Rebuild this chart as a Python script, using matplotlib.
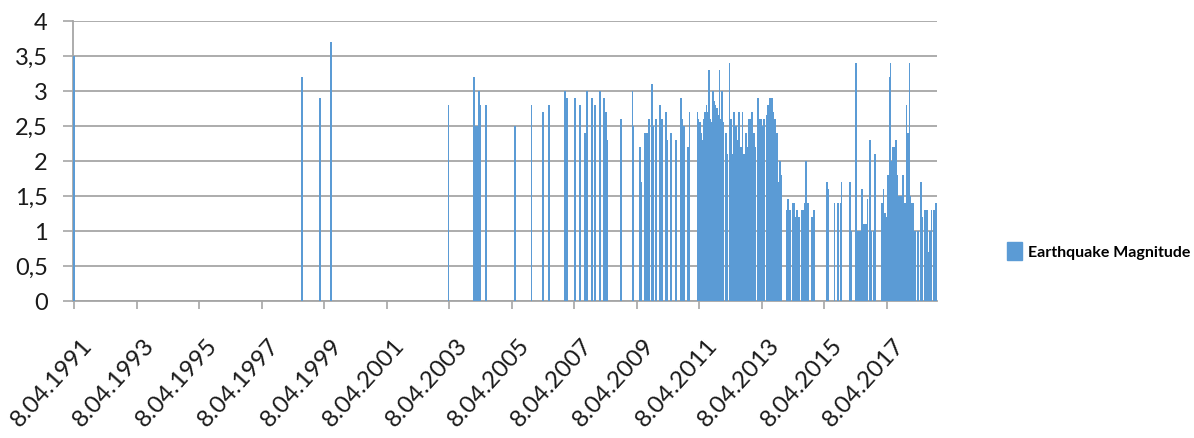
import matplotlib
matplotlib.use("Agg")
import matplotlib.pyplot as plt
import matplotlib.dates as mdates
from matplotlib.patches import Patch
from matplotlib.ticker import FuncFormatter
from matplotlib.transforms import ScaledTranslation
import pandas as pd

plt.rcParams['font.family'] = ['Lato', 'DejaVu Sans']

# event dates and magnitudes
quake_dates = [
    "1991-04-08", "1998-07-25", "1999-02-20", "1999-07-01", "2003-04-01",
    "2004-01-20", "2004-02-05", "2004-02-20", "2004-03-08", "2004-03-20", "2004-04-08", "2004-06-08",
    "2005-05-20", "2005-11-25", "2006-04-10", "2006-06-18", "2006-12-18", "2007-01-10", "2007-04-18",
    "2007-06-18", "2007-08-06", "2007-08-20", "2007-09-01", "2007-10-30", "2007-12-10", "2008-02-06",
    "2008-03-18", "2008-03-30", "2008-04-10", "2008-04-22", "2008-10-06", "2009-02-18", "2009-03-01",
    "2009-05-15", "2009-05-27", "2009-07-14",
    "2009-08-03", "2009-08-30", "2009-09-30", "2009-10-20", "2009-11-19", "2010-01-07", "2010-01-28",
    "2010-03-12", "2010-04-02", "2010-05-10", "2010-07-07", "2010-09-03", "2010-09-23", "2010-10-14",
    "2010-11-24", "2010-12-14",
    "2011-03-20", "2011-04-01", "2011-04-15", "2011-05-01", "2011-05-15", "2011-06-01", "2011-06-15",
    "2011-07-01", "2011-07-15", "2011-08-01", "2011-08-15", "2011-09-01", "2011-09-10", "2011-09-20",
    "2011-10-01", "2011-10-15", "2011-11-01", "2011-11-15", "2011-12-01", "2011-12-15", "2012-01-01",
    "2012-01-10",
    "2012-01-18", "2012-02-14", "2012-03-05", "2012-03-26", "2012-04-12", "2012-05-02", "2012-05-20",
    "2012-06-10", "2012-06-29", "2012-07-18", "2012-08-08", "2012-08-27", "2012-09-15", "2012-10-05",
    "2012-10-24", "2012-11-13", "2012-11-28", "2012-12-17", "2013-01-07", "2013-01-24", "2013-02-19",
    "2013-03-09", "2013-03-28", "2013-04-15", "2013-05-04", "2013-06-01", "2013-06-22", "2013-07-10",
    "2013-08-02", "2013-08-22", "2013-09-09", "2013-09-29", "2013-10-07", "2013-10-26", "2013-11-08",
    "2013-11-25",
    "2014-01-28", "2014-02-12", "2014-03-05", "2014-04-01", "2014-04-20", "2014-05-08", "2014-05-28",
    "2014-06-17", "2014-07-17", "2014-08-01", "2014-08-20", "2014-09-10", "2014-09-28", "2014-11-18",
    "2014-12-08",
    "2015-05-13", "2015-05-24", "2015-08-05", "2015-09-14", "2015-10-15", "2015-10-27", "2016-02-03",
    "2016-02-22", "2016-04-17", "2016-04-27", "2016-05-17", "2016-06-06", "2016-06-26", "2016-07-11",
    "2016-07-27", "2016-08-15", "2016-08-26", "2016-09-22", "2016-10-08", "2016-11-08", "2016-11-20",
    "2017-02-10", "2017-02-28", "2017-03-15", "2017-04-03", "2017-04-17", "2017-04-29", "2017-05-08",
    "2017-05-22", "2017-06-05", "2017-06-20", "2017-07-08", "2017-07-26", "2017-08-10", "2017-08-24",
    "2017-09-08", "2017-09-20", "2017-09-30", "2017-10-12", "2017-10-27", "2017-11-11", "2017-11-23",
    "2017-12-08", "2017-12-20", "2017-12-29", "2018-01-10", "2018-01-22", "2018-02-05",
    "2018-03-03", "2018-04-10", "2018-05-11", "2018-05-31", "2018-06-26", "2018-07-23", "2018-08-12",
    "2018-08-29", "2018-09-12", "2018-10-12", "2018-10-26", "2018-11-06",
]
magnitudes = [
    3.5, 3.2, 2.9, 3.7, 2.8,
    3.2, 2.5, 2.5, 2.5, 3.0, 2.8, 2.8,
    2.5, 2.8, 2.7, 2.8, 3.0, 2.9, 2.9,
    2.8, 2.4, 2.4, 3.0, 2.9, 2.8, 3.0,
    2.9, 2.7, 2.7, 2.3, 2.6, 3.0, 2.5,
    2.2, 1.7, 2.4,
    2.4, 2.6, 3.1, 2.5, 2.6, 2.8, 2.6,
    2.7, 2.3, 2.4, 2.3, 2.9, 2.6, 2.5,
    2.2, 2.7,
    2.7, 2.6, 2.55, 2.4, 2.3, 2.6, 2.7,
    2.8, 2.7, 3.3, 2.6, 2.55, 2.9, 3.0,
    2.85, 2.8, 2.75, 2.65, 3.3, 2.6, 3.0,
    2.55,
    2.4, 2.4, 2.1, 3.4, 2.6, 2.1, 2.7,
    2.5, 2.3, 2.7, 2.2, 2.7, 2.1, 2.4,
    2.2, 2.6, 2.6, 2.7, 2.4, 2.2, 2.9,
    2.6, 2.6, 2.5, 2.6, 2.65, 2.8, 2.9,
    2.9, 2.7, 2.6, 2.4, 2.2, 1.7, 2.0,
    1.8,
    1.3, 1.45, 1.3, 1.4, 1.4, 1.2, 1.3,
    1.2, 1.3, 1.3, 1.4, 2.0, 1.4, 1.2,
    1.3,
    1.7, 1.6, 1.4, 1.4, 1.4, 1.7, 1.7,
    1.0, 3.4, 1.0, 1.0, 1.0, 1.6, 1.1,
    1.1, 1.1, 1.45, 2.3, 1.0, 1.0, 2.1,
    1.4, 1.6, 1.25, 1.2, 1.8, 1.8, 3.2,
    3.4, 2.0, 2.2, 2.2, 2.3, 1.8, 1.5,
    1.5, 1.1, 1.5, 1.8, 1.4, 1.4, 2.8,
    2.4, 2.4, 3.4, 1.5, 1.4, 1.4,
    1.0, 1.0, 1.7, 1.2, 1.3, 1.3, 0.7,
    1.0, 1.3, 1.3, 0.9, 1.4,
]
tick_years = [1991, 1993, 1995, 1997, 1999, 2001, 2003, 2005, 2007, 2009, 2011, 2013, 2015, 2017]
tick_labels = [f"8.04.{y}" for y in tick_years]
series_name = "Earthquake Magnitude"

x = mdates.date2num(pd.to_datetime(quake_dates))
ticks = mdates.date2num(pd.to_datetime([f"{y}-04-08" for y in tick_years]))

fig = plt.figure(figsize=(11.94, 4.39), dpi=100)
ax = fig.add_axes([72.7 / 1194, 1 - 301.7 / 439, 864 / 1194, 280 / 439])

ax.set_ylim(0, 4)
ax.set_yticks([0, 0.5, 1, 1.5, 2, 2.5, 3, 3.5, 4])
ax.yaxis.set_major_formatter(FuncFormatter(lambda v, p: f"{v:g}".replace('.', ',')))

ax.set_axisbelow(True)
ax.yaxis.grid(True, color='#a6a6a6', linewidth=1.3)
for s in ['top', 'right']:
    ax.spines[s].set_visible(False)
for s in ['left', 'bottom']:
    ax.spines[s].set_color('#a6a6a6')
    ax.spines[s].set_linewidth(1.3)

ax.bar(x, magnitudes, width=20, color='#5B9BD5', linewidth=0, label=series_name, zorder=3)
ax.set_xlim(x[0] - 16, mdates.date2num(pd.Timestamp("2018-11-12")))
ax.set_xticks(ticks)
ax.set_xticklabels(tick_labels, rotation=48, ha='right')

ax.tick_params(axis='x', length=6, width=1.2, color='#a6a6a6', pad=18, labelsize=17.5, labelcolor='#1a1a1a')
ax.tick_params(axis='y', length=7, width=1.2, color='#a6a6a6', pad=11, labelsize=17, labelcolor='#1a1a1a')
for lab in ax.get_xticklabels():
    lab.set_transform(lab.get_transform() + ScaledTranslation(0.22, 0, fig.dpi_scale_trans))

ax.legend(handles=[Patch(color='#5B9BD5', label=series_name)],
          loc='center left', bbox_to_anchor=(999 / 1194, 1 - 252 / 439),
          bbox_transform=fig.transFigure, frameon=False, borderpad=0,
          handlelength=0.95, handleheight=1.3, handletextpad=0.35,
          prop={'weight': 'bold', 'size': 11.5})

fig.savefig("out.png", dpi=100)
